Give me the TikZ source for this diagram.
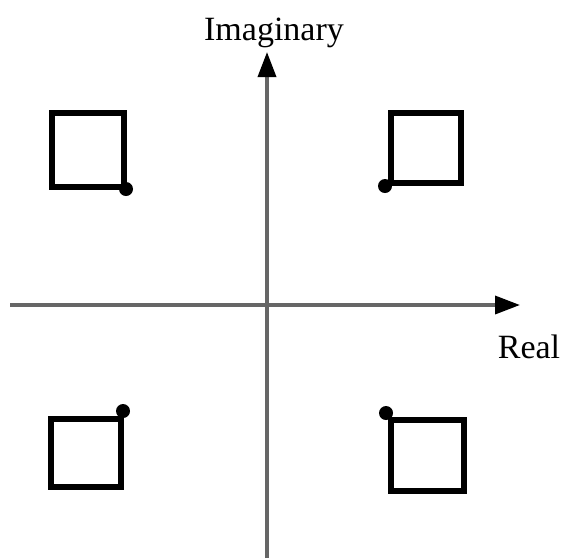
\documentclass[tikz,border=0pt]{standalone}
\usepackage{fontspec}
\setmainfont{Liberation Serif}
\usetikzlibrary{arrows.meta}
\begin{document}
\begin{tikzpicture}[x=1pt,y=-1pt,
  axis/.style={line width=3.5pt, draw=black!60, -{Triangle[length=25pt,width=18pt,color=black]}},
  sq/.style={draw=black, line width=6pt, inner sep=0pt, outer sep=0pt},
  dotmark/.style={circle, fill=black, inner sep=0pt, minimum size=14pt},
  lbl/.style={font=\fontsize{34}{40}\selectfont, inner sep=0pt}]
\useasboundingbox (0,0) rectangle (561,558);
\coordinate (xs) at (10,305);
\coordinate (xe) at (520,305);
\coordinate (ys) at (267,558);
\coordinate (ye) at (267,52);
\draw[axis] (xs) -- (xe);
\draw[axis] (ys) -- (ye);
\node[lbl, anchor=base] (im) at (274,40) {Imaginary};
\node[lbl, anchor=base] (re) at (529,358) {Real};
\node[sq, minimum width=72pt, minimum height=74pt] (tl) at (88,150) {};
\node[sq, minimum width=70pt, minimum height=70pt] (tr) at (426,148) {};
\node[sq, minimum width=70pt, minimum height=68pt] (bl) at (86,453) {};
\node[sq, minimum width=73pt, minimum height=71pt] (br) at (427.5,455.5) {};
\node[dotmark] (dtl) at (126,189) {};
\node[dotmark] (dtr) at (385,186) {};
\node[dotmark] (dbl) at (123,411) {};
\node[dotmark] (dbr) at (386,413) {};
\end{tikzpicture}
\end{document}
